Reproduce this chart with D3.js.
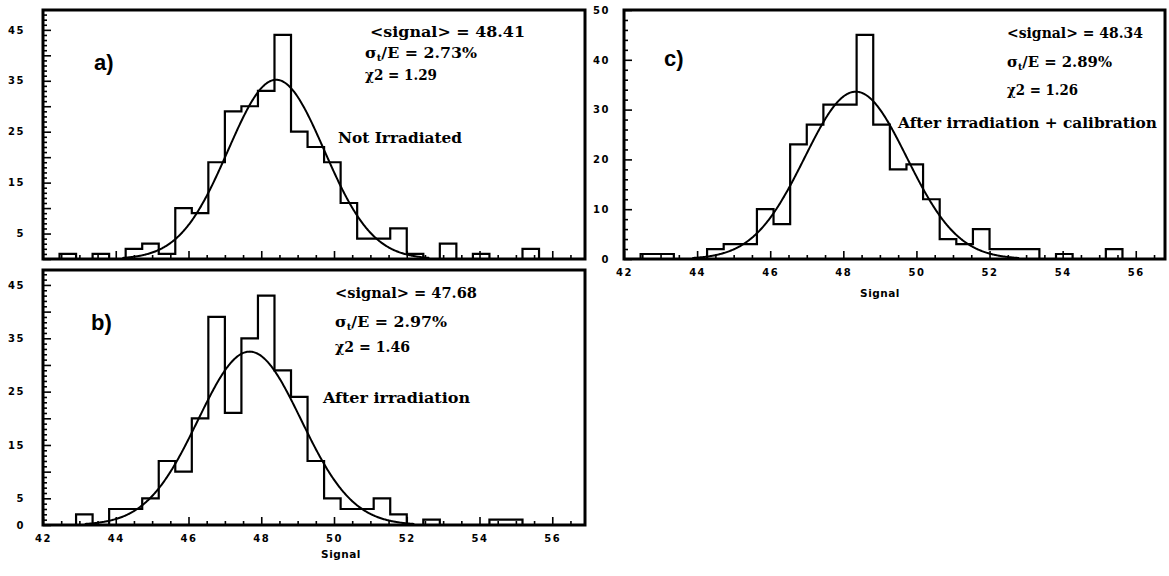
<!DOCTYPE html>
<html><head><meta charset="utf-8">
<script src="https://cdn.jsdelivr.net/npm/d3@7"></script>
<style>body{margin:0;background:#fff}svg{display:block}</style>
</head><body>
<svg id="chart" width="1169" height="576"></svg>
<script>
// ---------- data ----------
const binStart = 42;
const binWidth = 15 / 33;
const countsA = [0,1,0,1,0,2,3,1,10,9,19,29,30,33,44,25,22,19,11,4,4,6,1,0,3,0,1,0,0,2,0,0,0];
const countsB = [0,0,2,0,3,3,5,12,10,20,39,21,35,43,29,24,12,5,3,3,5,2,0,1,0,0,0,1,1,0,0,0,0];
const countsC = [0,1,1,0,0,2,3,3,10,7,23,27,31,31,45,27,18,19,12,4,3,6,2,2,2,0,1,0,0,2,0,0,0];
const fitMean = [48.41, 47.68, 48.34];
const fitResolutionPct = [2.73, 2.97, 2.89];
const fitPeak = [35.2, 32.5, 33.6];
const chi2 = [1.29, 1.46, 1.26];
const panelLetters = ["a)", "b)", "c)"];
const conditionLabels = ["Not Irradiated", "After irradiation", "After irradiation + calibration"];
const xTickLabels = [42, 44, 46, 48, 50, 52, 54, 56];
const yLabelsA = [5, 15, 25, 35, 45];
const yLabelsB = [0, 5, 15, 25, 35, 45];
const yLabelsC = [0, 10, 20, 30, 40, 50];
const xTitle = "Signal";

// ---------- layout ----------
const panels = [
  { counts: countsA, k: 0, x0: 43, x1: 585, y0: 259, y1: 10, xMax: 56.9, yMax: 48.9,
    yLabels: yLabelsA, yMinor: 1, yMajor: 5, showX: false, labPad: 18,
    letter: [94, 70], txt: [[370,37,155],[365,58,112],[365,80,72]], cond: [338,143,124] },
  { counts: countsB, k: 1, x0: 43, x1: 585, y0: 525, y1: 270, xMax: 56.9, yMax: 47.8,
    yLabels: yLabelsB, yMinor: 1, yMajor: 5, showX: true, labPad: 18,
    letter: [91, 330], txt: [[335,298,142],[335,327,112],[335,352,75]], cond: [323,403,147],
    title: [341, 558] },
  { counts: countsC, k: 2, x0: 624, x1: 1165, y0: 259, y1: 10, xMax: 56.8, yMax: 50,
    yLabels: yLabelsC, yMinor: 2, yMajor: 10, showX: true, labPad: 14,
    letter: [664, 66], txt: [[1007,38,136],[1007,67,105],[1007,95,71]], cond: [898,128,259],
    title: [880, 297] }
];

const svg = d3.select("#chart");
const tickFont = "DejaVu Sans, sans-serif";
const annFont = "DejaVu Serif, serif";

panels.forEach((p, pi) => {
  const x = d3.scaleLinear().domain([42, p.xMax]).range([p.x0, p.x1]);
  const y = d3.scaleLinear().domain([0, p.yMax]).range([p.y0, p.y1]);
  const g = svg.append("g");

  const clipId = "clip" + pi;
  svg.append("clipPath").attr("id", clipId).append("rect")
    .attr("x", p.x0).attr("y", p.y1).attr("width", p.x1 - p.x0).attr("height", p.y0 - p.y1);

  // minor / major x ticks (inward)
  const xMinor = d3.range(42.5, p.xMax, 0.5).filter(v => Math.abs(v % 2) > 1e-6);
  const xAxisMinor = d3.axisBottom(x).tickValues(xMinor).tickSize(-4).tickFormat("");
  const xAxisMajor = d3.axisBottom(x).tickValues(xTickLabels).tickSizeInner(-8).tickSizeOuter(0)
    .tickPadding(10).tickFormat(d => p.showX ? d : "");
  [xAxisMinor, xAxisMajor].forEach(ax => {
    const a = g.append("g").attr("transform", `translate(0,${p.y0})`).call(ax);
    a.select(".domain").remove();
    a.selectAll("line").attr("stroke", "#000").attr("stroke-width", 1.6);
    a.selectAll("text").attr("font-family", tickFont).attr("font-weight", "bold")
      .attr("font-size", 10).attr("letter-spacing", 1.5).attr("fill", "#000");
  });

  // y ticks (inward)
  const yMinorVals = d3.range(0, p.yMax + 0.001, p.yMinor).filter(v => v % p.yMajor !== 0);
  const yMajorVals = d3.range(0, p.yMax + 0.001, p.yMajor);
  const yAxisMinor = d3.axisLeft(y).tickValues(yMinorVals).tickSize(-4).tickFormat("");
  const yAxisMajor = d3.axisLeft(y).tickValues(yMajorVals).tickSizeInner(-8).tickSizeOuter(0)
    .tickPadding(p.labPad).tickFormat(d => p.yLabels.includes(d) ? d : "");
  [yAxisMinor, yAxisMajor].forEach(ax => {
    const a = g.append("g").attr("transform", `translate(${p.x0},0)`).call(ax);
    a.select(".domain").remove();
    a.selectAll("line").attr("stroke", "#000").attr("stroke-width", 1.6);
    a.selectAll("text").attr("font-family", tickFont).attr("font-weight", "bold")
      .attr("font-size", 10).attr("letter-spacing", 1.5).attr("fill", "#000");
  });

  // histogram outline
  const pts = [[binStart, 0]].concat(p.counts.map((c, i) => [binStart + i * binWidth, c]));
  pts.push([binStart + p.counts.length * binWidth, 0]);
  const line = d3.line().x(d => x(d[0])).y(d => y(d[1])).curve(d3.curveStepAfter);
  g.append("path").datum(pts).attr("d", line).attr("fill", "none")
    .attr("stroke", "#000").attr("stroke-width", 2.2).attr("clip-path", `url(#${clipId})`);

  // fitted gaussian
  const mu = fitMean[p.k], sigma = fitMean[p.k] * fitResolutionPct[p.k] / 100, A = fitPeak[p.k];
  const gx = d3.range(mu - 3.2 * sigma, mu + 3.2 * sigma, 0.02);
  const curve = d3.line().x(d => x(d)).y(d => y(A * Math.exp(-0.5 * ((d - mu) / sigma) ** 2)))
    .curve(d3.curveLinear);
  g.append("path").datum(gx).attr("d", curve).attr("fill", "none")
    .attr("stroke", "#000").attr("stroke-width", 2).attr("clip-path", `url(#${clipId})`);

  // frame
  g.append("rect").attr("x", p.x0).attr("y", p.y1).attr("width", p.x1 - p.x0).attr("height", p.y0 - p.y1)
    .attr("fill", "none").attr("stroke", "#000").attr("stroke-width", 3);

  // panel letter
  g.append("text").attr("x", p.letter[0]).attr("y", p.letter[1]).text(panelLetters[p.k])
    .attr("font-family", "Liberation Sans, sans-serif").attr("font-weight", "bold").attr("font-size", 22);

  // stats text
  const lines = [
    [`<signal> = ${fitMean[p.k].toFixed(2)}`],
    null,
    [`χ2 = ${chi2[p.k].toFixed(2)}`]
  ];
  const addText = (pos, size) => g.append("text").attr("x", pos[0]).attr("y", pos[1])
    .attr("font-family", annFont).attr("font-weight", "bold").attr("font-size", size)
    .attr("textLength", pos[2]).attr("lengthAdjust", "spacingAndGlyphs");
  addText(p.txt[0], 14).text(`<signal> = ${fitMean[p.k].toFixed(2)}`);
  const t2 = addText(p.txt[1], 14);
  t2.append("tspan").text("σ");
  t2.append("tspan").attr("font-size", 9).attr("dy", 3).text("t");
  t2.append("tspan").attr("dy", -3).text(`/E = ${fitResolutionPct[p.k].toFixed(2)}%`);
  addText(p.txt[2], 14).text(`χ2 = ${chi2[p.k].toFixed(2)}`);
  addText(p.cond, 15).text(conditionLabels[p.k]);

  if (p.title) {
    g.append("text").attr("x", p.title[0]).attr("y", p.title[1]).attr("text-anchor", "middle")
      .attr("font-family", tickFont).attr("font-weight", "bold").attr("font-size", 10.5)
      .attr("letter-spacing", 0.5).text(xTitle);
  }
});
</script>
</body></html>
